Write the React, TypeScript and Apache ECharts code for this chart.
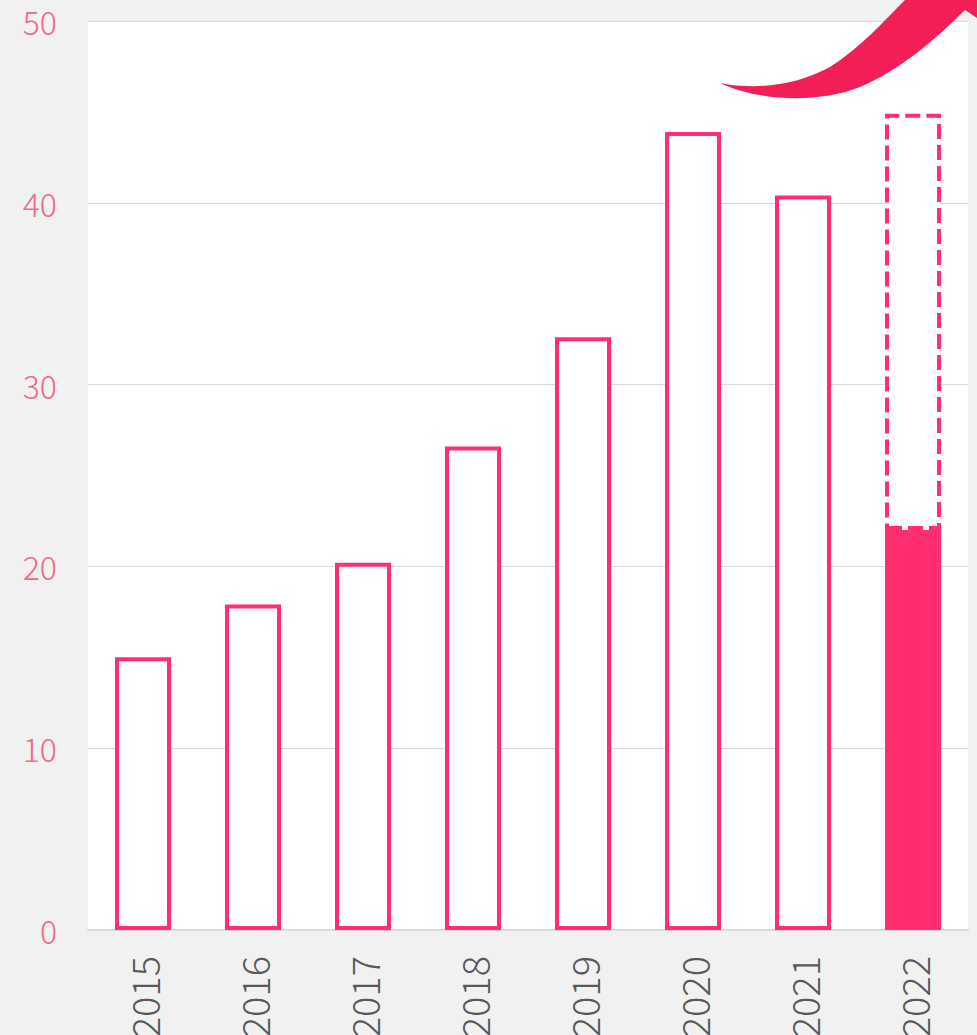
import React, { useEffect, useRef } from "react";
import * as echarts from "echarts";

const years = ["2015", "2016", "2017", "2018", "2019", "2020", "2021", "2022"];
const actualValues = [15.0, 17.9, 20.2, 26.6, 32.6, 43.9, 40.4, 22.0];
const forecastRemainder = [null, null, null, null, null, null, null, 22.9];
const yTicks = { min: 0, max: 50, interval: 10 };

const PINK = "#ff2e6e";
const ARROW = "#f21e56";

const swooshPath =
  "M720,83 C760,102 820,103 860,87 C900,70 935,40 965,10 L995,30 L995,-12 L910,-12 L905,0 C885,20 860,48 830,67 C795,86 755,90 720,83 Z";

let registered = false;

export default function App() {
  const ref = useRef<HTMLDivElement>(null);
  useEffect(() => {
    if (!ref.current) return;
    if (!registered) {
      echarts.graphic.registerShape("swoosh", echarts.graphic.extendPath(swooshPath, {}));
      registered = true;
    }
    const chart = echarts.init(ref.current, undefined, { renderer: "svg" });
    chart.setOption({
      animation: false,
      backgroundColor: "#f1f1f1",
      grid: {
        left: 88,
        right: 9,
        top: 21,
        bottom: 105,
        show: true,
        backgroundColor: "#ffffff",
        borderWidth: 0,
        containLabel: false,
        outerBoundsMode: "none",
      },
      xAxis: {
        type: "category",
        data: years,
        axisLine: { show: true, lineStyle: { color: "#d9d9d9", width: 2 } },
        axisTick: { show: false },
        axisLabel: {
          rotate: 90,
          color: "#595959",
          fontSize: 38,
          fontWeight: 300,
          fontFamily: "Noto Sans CJK JP",
          margin: 26,
        },
        z: 0,
      },
      yAxis: {
        type: "value",
        min: yTicks.min,
        max: yTicks.max,
        interval: yTicks.interval,
        axisLine: { show: false },
        axisTick: { show: false },
        splitLine: { lineStyle: { color: "#d9d9d9", width: 1 } },
        axisLabel: {
          color: "#f06a85",
          fontSize: 32,
          fontWeight: 300,
          fontFamily: "Noto Sans CJK JP",
          margin: 31,
        },
      },
      series: [
        {
          type: "bar",
          stack: "total",
          barWidth: 56,
          data: actualValues.map((v, i) =>
            i === actualValues.length - 1
              ? { value: v, itemStyle: { color: PINK, borderColor: PINK, borderWidth: 4 } }
              : v
          ),
          itemStyle: { color: "#ffffff", borderColor: PINK, borderWidth: 4 },
          z: 3,
        },
        {
          type: "bar",
          stack: "total",
          barWidth: 56,
          data: forecastRemainder,
          itemStyle: {
            color: "#ffffff",
            borderColor: PINK,
            borderWidth: 4,
            borderType: [15, 6],
          },
          z: 3,
        },
      ],
      graphic: [
        {
          type: "swoosh",
          x: 0,
          y: 0,
          z: 10,
          style: { fill: ARROW },
        },
      ],
    });
    return () => chart.dispose();
  }, []);
  return (
    <div
      ref={ref}
      style={{ position: "fixed", left: 0, top: 0, width: 977, height: 1035 }}
    />
  );
}
